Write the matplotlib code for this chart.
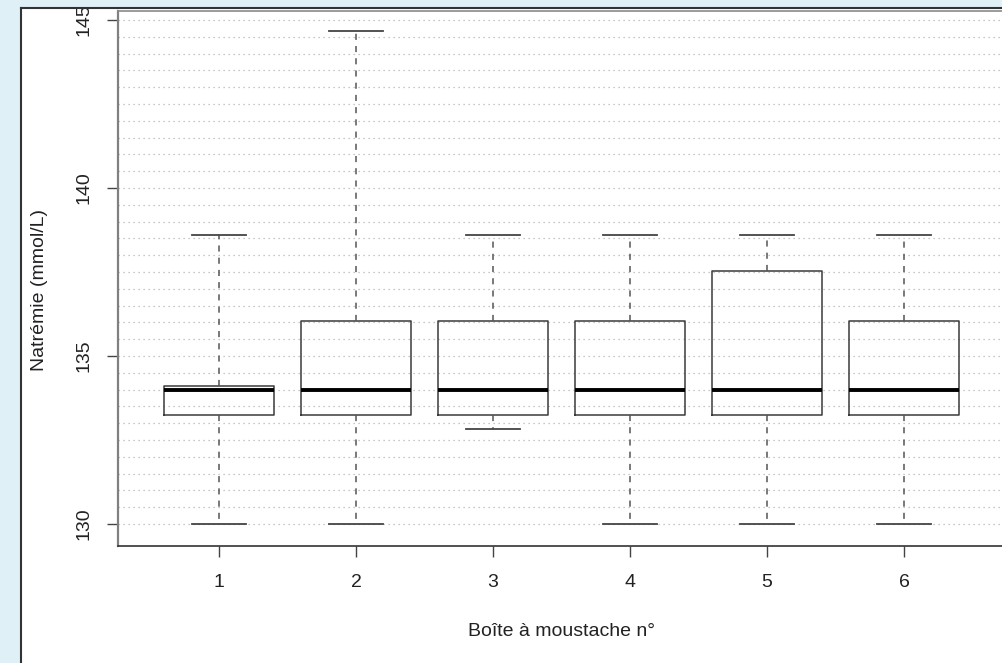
import numpy as np
import matplotlib.pyplot as plt
from matplotlib.patches import Rectangle
from matplotlib.lines import Line2D

# box statistics (mmol/L)
labels = ['1', '2', '3', '4', '5', '6']
whislo = [130.0, 130.0, 132.83, 130.0, 130.0, 130.0]
q1 = [133.25, 133.25, 133.25, 133.25, 133.25, 133.25]
med = [134.0, 134.0, 134.0, 134.0, 134.0, 134.0]
q3 = [134.1, 136.05, 136.05, 136.05, 137.53, 136.05]
whishi = [138.6, 144.67, 138.6, 138.6, 138.6, 138.6]
yticks = [130, 135, 140, 145]

W, H = 1002, 663
bg = '#dff0f7'

plt.rcParams['font.family'] = ['Liberation Sans', 'DejaVu Sans']

fig = plt.figure(figsize=(W / 100, H / 100), dpi=100, facecolor=bg)

# white panel behind the plot
panel = Rectangle((20 / W, -0.1), 1.2, (H - 7) / H + 0.1, transform=fig.transFigure,
                  fc='white', ec='none', zorder=-1)
fig.patches.append(panel)

ax = fig.add_axes([118 / W, (H - 546) / H, (1041 - 118) / W, (546 - 11) / H])
ax.set_facecolor('none')

stats = []
for i in range(len(labels)):
    stats.append(dict(whislo=whislo[i], q1=q1[i], med=med[i], q3=q3[i],
                      whishi=whishi[i], fliers=[], label=labels[i]))

ax.bxp(stats, positions=np.arange(1, 7), widths=0.8, capwidths=0.4,
       showfliers=False, patch_artist=False,
       boxprops=dict(color='#3a3a3a', lw=1.1),
       whiskerprops=dict(color='#555555', lw=1.1, linestyle=(0, (4, 4))),
       capprops=dict(color='#444444', lw=1.3),
       medianprops=dict(color='black', lw=2.8, solid_capstyle='butt'))

ax.set_yticks(yticks)
ax.set_yticks(np.arange(130, 145.1, 0.5), minor=True)
ax.set_xlim(0.263, 7.0)
ax.set_ylim(129.345, 145.27)
ax.grid(True, which='both', axis='y', linestyle=(0, (1, 3)), color='#b5b5b5', lw=0.9)
ax.set_axisbelow(True)

ax.tick_params(axis='both', which='major', length=8, width=1, color='#444444',
               labelsize=14, pad=12, labelcolor='#222222')
ax.tick_params(axis='y', which='major', pad=10)
ax.tick_params(axis='y', which='minor', length=0)
ax.tick_params(axis='y', labelrotation=90)
for lab in ax.get_yticklabels():
    lab.set_va('center')

ax.spines['right'].set_visible(False)
ax.spines['left'].set_color('#808080')
ax.spines['left'].set_linewidth(1.6)
ax.spines['top'].set_color('#8a8a8a')
ax.spines['top'].set_linewidth(1.2)
ax.spines['bottom'].set_color('#333333')
ax.spines['bottom'].set_linewidth(1.2)

fig.text(562 / W, 1 - 631 / H, 'Boîte à moustache n°', ha='center', va='center',
         fontsize=14, color='#222222')
fig.text(40 / W, 1 - 290 / H, 'Natrémie (mmol/L)', ha='center', va='center',
         rotation=90, fontsize=14, color='#222222')

# cover strip above the panel and the panel border
fig.patches.append(Rectangle((0, 1 - 7 / H), 1, 7 / H, transform=fig.transFigure,
                             fc=bg, ec='none', zorder=5))
fig.patches.append(Rectangle((0, 0), 20 / W, 1, transform=fig.transFigure,
                             fc=bg, ec='none', zorder=5))
fig.lines.append(Line2D([20.5 / W, 20.5 / W], [0, 1 - 7.5 / H], transform=fig.transFigure,
                        color='#333333', lw=1.5, zorder=6))
fig.lines.append(Line2D([20.5 / W, 1], [1 - 7.5 / H, 1 - 7.5 / H], transform=fig.transFigure,
                        color='#333333', lw=1.5, zorder=6))

fig.savefig('out.png', dpi=100, facecolor=bg)
